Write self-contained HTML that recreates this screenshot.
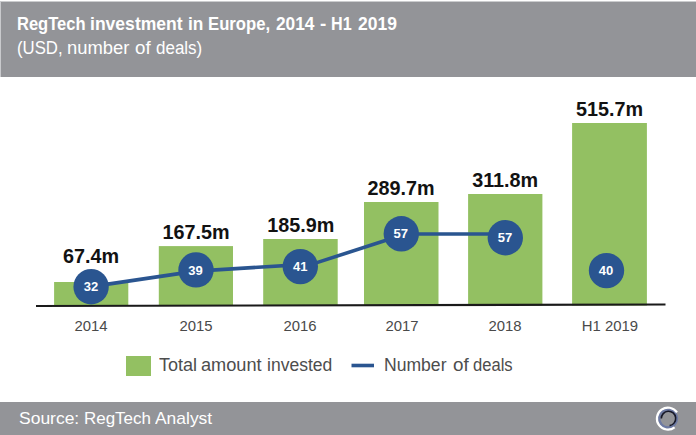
<!DOCTYPE html>
<html><head><meta charset="utf-8">
<style>
html,body{margin:0;padding:0;background:#fff;width:696px;height:435px;overflow:hidden;position:relative}
.t{position:absolute;font-family:"Liberation Sans",sans-serif;white-space:nowrap;line-height:1;transform-origin:0 0}
.hdr{position:absolute;left:1px;top:2px;width:695px;height:74.5px;background:#939498}
.hl{position:absolute;left:0;top:1px;width:1px;height:76px;background:#c9cacd}
.ht{position:absolute;left:1px;top:1px;width:695px;height:1px;background:#cbccce}
.ftr{position:absolute;left:0;top:402px;width:696px;height:33px;background:#939498}
.w{color:#fff}
.v{font-weight:bold;font-size:19.8px;color:#121212;text-align:center;width:100px;margin-left:-50px}
.x{font-size:15.5px;color:#4a4a4a;text-align:center;width:100px;margin-left:-50px;transform:scaleX(0.96);transform-origin:50% 50%}
.lg{font-size:17.5px;color:#404040}
svg{position:absolute;left:0;top:0}
</style></head><body>
<div class="hdr"></div><div class="hl"></div><div class="ht"></div>
<div class="ftr"></div>
<svg width="696" height="435" viewBox="0 0 696 435">
  <g fill="#93c062">
    <rect x="54.1" y="282" width="74.2" height="23.5"/>
    <rect x="158.8" y="246.1" width="74.2" height="59.4"/>
    <rect x="263.2" y="239" width="74.5" height="66.5"/>
    <rect x="364" y="202" width="74.5" height="103.5"/>
    <rect x="468.1" y="194" width="74.3" height="111.5"/>
    <rect x="572.1" y="123" width="74.8" height="182.5"/>
  </g>
  <line x1="36" y1="306" x2="665.5" y2="304.5" stroke="#1a1a1a" stroke-width="2.2"/>
  <polyline points="91,286.6 196,271.1 313,263.9 405.4,234 505,234" fill="none" stroke="#2a5590" stroke-width="3.6" stroke-linejoin="round"/>
  <g fill="#2a5590">
    <circle cx="91.1" cy="286.7" r="17.7"/>
    <circle cx="196" cy="269.9" r="17.7"/>
    <circle cx="300.3" cy="266.6" r="17.7"/>
    <circle cx="401.3" cy="233.8" r="17.7"/>
    <circle cx="505.3" cy="237.7" r="17.7"/>
    <circle cx="606.5" cy="270.6" r="17.7"/>
  </g>
  <g font-family="Liberation Sans" font-weight="bold" font-size="13" fill="#fff" text-anchor="middle">
    <text x="91.1" y="291.3">32</text>
    <text x="195.5" y="275.1">39</text>
    <text x="300.3" y="271">41</text>
    <text x="400.8" y="238">57</text>
    <text x="505.1" y="242.4">57</text>
    <text x="606.1" y="274.7">40</text>
  </g>
  <rect x="126" y="356" width="25" height="20" fill="#93c062"/>
  <line x1="351.5" y1="365.5" x2="374" y2="365.5" stroke="#2a5590" stroke-width="3.6"/>
  <!-- logo -->
  <g fill="none">
    <circle cx="668" cy="418.6" r="8.9" stroke="#6d7aa3" stroke-width="2.6"/>
    <path d="M 677 412.4 A 11 11 0 1 0 674.6 427.3" stroke="#ffffff" stroke-width="2.2"/>
    <path d="M 661.3 418.6 A 7.2 7.2 0 1 1 669.6 425.6" stroke="#161828" stroke-width="1.6"/>
  </g>
</svg>
<div class="t" style="left:17.38px;top:15.40px;font-size:18px;font-weight:bold;color:#fff;transform:scaleX(0.918)">RegTech</div>
<div class="t" style="left:90.38px;top:15.40px;font-size:18px;font-weight:bold;color:#fff;transform:scaleX(0.975)">investment</div>
<div class="t" style="left:188.10px;top:15.40px;font-size:18px;font-weight:bold;color:#fff;transform:scaleX(0.961)">in</div>
<div class="t" style="left:208.37px;top:15.40px;font-size:18px;font-weight:bold;color:#fff;transform:scaleX(0.927)">Europe,</div>
<div class="t" style="left:276.44px;top:15.40px;font-size:18px;font-weight:bold;color:#fff;transform:scaleX(0.961)">2014</div>
<div class="t" style="left:320.12px;top:15.40px;font-size:18px;font-weight:bold;color:#fff;transform:scaleX(1.045)">-</div>
<div class="t" style="left:330.80px;top:15.40px;font-size:18px;font-weight:bold;color:#fff;transform:scaleX(0.896)">H1</div>
<div class="t" style="left:358.04px;top:15.40px;font-size:18px;font-weight:bold;color:#fff;transform:scaleX(0.972)">2019</div>
<div class="t" style="left:17.20px;top:39.00px;font-size:18px;font-weight:normal;color:#fff;transform:scaleX(0.930)">(USD,</div>
<div class="t" style="left:66.62px;top:39.00px;font-size:18px;font-weight:normal;color:#fff;transform:scaleX(1.021)">number</div>
<div class="t" style="left:135.15px;top:39.00px;font-size:18px;font-weight:normal;color:#fff;transform:scaleX(1.040)">of</div>
<div class="t" style="left:156.04px;top:39.00px;font-size:18px;font-weight:normal;color:#fff;transform:scaleX(0.943)">deals)</div>

<div class="t v" style="left:91px;top:247.3px">67.4m</div>
<div class="t v" style="left:196px;top:222.7px">167.5m</div>
<div class="t v" style="left:300.8px;top:216.2px">185.9m</div>
<div class="t v" style="left:401px;top:178.9px">289.7m</div>
<div class="t v" style="left:505.2px;top:171.3px">311.8m</div>
<div class="t v" style="left:609.6px;top:99.9px">515.7m</div>

<div class="t x" style="left:91.2px;top:317.6px">2014</div>
<div class="t x" style="left:195.8px;top:317.6px">2015</div>
<div class="t x" style="left:300.2px;top:317.6px">2016</div>
<div class="t x" style="left:402px;top:317.6px">2017</div>
<div class="t x" style="left:505.4px;top:317.6px">2018</div>
<div class="t x" style="left:609.9px;top:317.6px">H1 2019</div>

<div class="t" style="left:159.41px;top:357.00px;font-size:17.5px;font-weight:normal;color:#4d4d4d;transform:scaleX(1.031)">Total</div>
<div class="t" style="left:200.95px;top:357.00px;font-size:17.5px;font-weight:normal;color:#4d4d4d;transform:scaleX(1.039)">amount</div>
<div class="t" style="left:266.80px;top:357.00px;font-size:17.5px;font-weight:normal;color:#4d4d4d;transform:scaleX(1.002)">invested</div>
<div class="t" style="left:384.28px;top:357.00px;font-size:17.5px;font-weight:normal;color:#4d4d4d;transform:scaleX(1.004)">Number</div>
<div class="t" style="left:452.55px;top:357.00px;font-size:17.5px;font-weight:normal;color:#4d4d4d;transform:scaleX(1.075)">of</div>
<div class="t" style="left:473.44px;top:357.00px;font-size:17.5px;font-weight:normal;color:#4d4d4d;transform:scaleX(0.948)">deals</div>

<div class="t" style="left:19.40px;top:409.61px;font-size:17px;font-weight:normal;color:#fff;transform:scaleX(1.028)">Source:</div>
<div class="t" style="left:83.72px;top:409.61px;font-size:17px;font-weight:normal;color:#fff;transform:scaleX(0.998)">RegTech</div>
<div class="t" style="left:155.44px;top:409.61px;font-size:17px;font-weight:normal;color:#fff;transform:scaleX(1.025)">Analyst</div>
</body></html>
